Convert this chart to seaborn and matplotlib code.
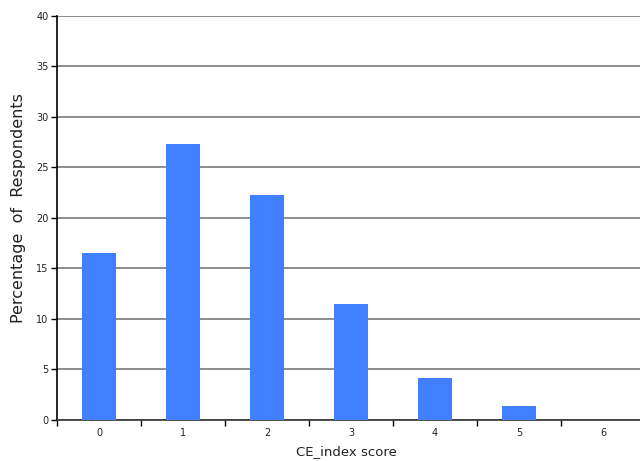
import numpy as np
import pandas as pd
import matplotlib
matplotlib.use("Agg")
from matplotlib import pyplot
import matplotlib.ticker as ticker
import seaborn as sns

scores = ["0", "1", "2", "3", "4", "5", "6"]
percent = [16.5, 27.3, 22.2, 11.5, 4.1, 1.4, 0.0]

df = pd.DataFrame({"score": scores, "pct": percent})

sns.set_theme(style="white")
pyplot.rcParams['font.family'] = ['DejaVu Sans']

fig = pyplot.figure(figsize=(6.4, 4.61), dpi=100)
ax = fig.add_axes([57 / 640, 41.3 / 461, 588 / 640, 404 / 461])

sns.barplot(data=df, x="score", y="pct", order=scores, color="#4080FF",
			saturation=1, width=0.4, linewidth=0, edgecolor="none", ax=ax, zorder=3)

ax.set_xlim(-0.5, len(scores) - 0.5)
ax.set_ylim(0, 40)
ax.yaxis.set_major_locator(ticker.MultipleLocator(5))

# gridlines behind bars
ax.grid(axis="y", color="#7a7a7a", linewidth=1.2, zorder=0)
ax.set_axisbelow(True)

# ticks between categories, labels at the centres
ax.xaxis.set_major_locator(ticker.FixedLocator([i + 0.5 for i in range(-1, len(scores))]))
ax.xaxis.set_major_formatter(ticker.NullFormatter())
ax.xaxis.set_minor_locator(ticker.FixedLocator(range(len(scores))))
ax.xaxis.set_minor_formatter(ticker.FixedFormatter(scores))
ax.tick_params(axis="x", which="major", direction="out", length=4, width=1, color="black", bottom=True)
ax.tick_params(axis="x", which="minor", length=0, labelsize=7, pad=6, colors="#222222")
ax.tick_params(axis="y", direction="out", length=4, width=1, color="black", left=True, labelsize=7, pad=2, colors="#222222")

for s in ["top", "right"]:
	ax.spines[s].set_visible(False)
ax.spines["left"].set_color("black")
ax.spines["bottom"].set_color("#333333")
ax.spines["left"].set_linewidth(1.2)
ax.spines["bottom"].set_linewidth(1.2)

ax.set_xlabel("CE_index score", fontsize=9.5, color="#222222", va="center")
ax.xaxis.set_label_coords(0.4915, -0.08)
ax.set_ylabel("Percentage  of  Respondents", fontsize=11.5, color="#222222", va="center")
ax.yaxis.set_label_coords(-0.066, 0.524)

fig.savefig("out.png", dpi=100)
